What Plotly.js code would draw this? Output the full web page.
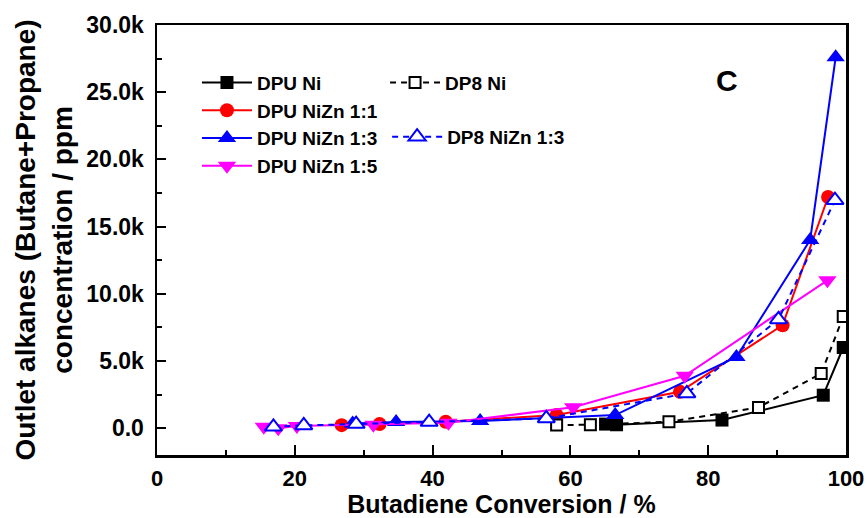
<!DOCTYPE html>
<html>
<head>
<meta charset="utf-8">
<script src="https://cdn.plot.ly/plotly-3.0.1.min.js"></script>
<style>html,body{margin:0;padding:0;background:#fff;}#chart{width:867px;height:518px;}</style>
</head>
<body>
<div id="chart"></div>
<script>
// Series data (Butadiene conversion %, outlet alkanes ppm)
const dpuNiX = [65.1, 66.7, 82.0, 96.7, 99.6];
const dpuNiY = [300, 250, 600, 2450, 6000];

const dp8NiX = [58.0, 62.9, 74.3, 87.3, 96.4, 99.6];
const dp8NiY = [230, 250, 470, 1540, 4070, 8300];

const dpuNiZn11X = [26.8, 32.3, 41.9, 58.0, 75.9, 90.8, 97.4];
const dpuNiZn11Y = [220, 300, 480, 970, 2700, 7660, 17200];

const dpuNiZn13X = [28.4, 34.7, 46.9, 66.5, 84.1, 94.8, 98.5];
const dpuNiZn13Y = [350, 450, 530, 970, 5300, 14000, 27600];

const dp8NiZn13X = [16.9, 21.3, 28.9, 39.5, 56.5, 76.9, 90.2, 98.4];
const dp8NiZn13Y = [100, 200, 300, 450, 720, 2580, 8090, 16960];

const dpuNiZn15X = [15.5, 17.6, 20.3, 31.4, 42.3, 60.4, 76.6, 97.3];
const dpuNiZn15Y = [100, 0, 150, 250, 400, 1550, 3900, 11000];

const yTickVals = [0, 5000, 10000, 15000, 20000, 25000, 30000];
const yTickText = ['0.0', '5.0k', '10.0k', '15.0k', '20.0k', '25.0k', '30.0k'];
const xTickVals = [0, 20, 40, 60, 80, 100];

const FONT = 'Liberation Sans, Arial, sans-serif';

function solid(name, x, y, color, symbol, size, group) {
  return {
    type: 'scatter', mode: 'lines+markers', name: name, x: x, y: y,
    line: {color: color, width: 2},
    marker: {symbol: symbol, size: size, color: color, line: {width: 0}},
    legend: 'legend', legendgroup: group
  };
}
function dashed(name, x, y, color, symbol, size, legendId) {
  return {
    type: 'scatter', mode: 'lines+markers', name: name, x: x, y: y,
    line: {color: color, width: 2, dash: '6px,5px'},
    marker: {symbol: symbol, size: size, color: '#ffffff', line: {color: color, width: 2}},
    legend: legendId
  };
}

const traces = [
  solid('DPU Ni', dpuNiX, dpuNiY, '#000000', 'square', 13, 'g1'),
  solid('DPU NiZn 1:1', dpuNiZn11X, dpuNiZn11Y, '#ff0000', 'circle', 14, 'g2'),
  solid('DPU NiZn 1:3', dpuNiZn13X, dpuNiZn13Y, '#0000ff', 'triangle-up', 16, 'g3'),
  solid('DPU NiZn 1:5', dpuNiZn15X, dpuNiZn15Y, '#ff00ff', 'triangle-down', 16, 'g4'),
  dashed('DP8 Ni', dp8NiX, dp8NiY, '#000000', 'square', 11, 'legend2'),
  dashed('DP8 NiZn 1:3', dp8NiZn13X, dp8NiZn13Y, '#0000ff', 'triangle-up', 15, 'legend3')
];

const legendBase = {
  font: {family: FONT, size: 19, color: '#000', weight: 'bold'},
  bgcolor: 'rgba(0,0,0,0)', borderwidth: 0, itemwidth: 50,
  xanchor: 'left', yanchor: 'top', traceorder: 'grouped', tracegroupgap: 0,
  itemclick: false
};

const layout = {
  width: 867, height: 518,
  margin: {l: 157, r: 21, t: 25, b: 63},
  paper_bgcolor: '#ffffff', plot_bgcolor: '#ffffff',
  showlegend: true,
  xaxis: {
    range: [0, 100], tickvals: xTickVals, ticktext: xTickVals.map(String),
    ticks: 'inside', ticklen: 10, tickwidth: 2, tickcolor: '#000',
    minor: {dtick: 10, ticks: 'inside', ticklen: 5, tickwidth: 2, tickcolor: '#000'},
    showline: true, linecolor: '#000', linewidth: 2.5, mirror: true,
    showgrid: false, zeroline: false,
    tickfont: {family: FONT, size: 22, color: '#000', weight: 'bold'},
    ticklabelstandoff: 2,
    title: {text: 'Butadiene Conversion / %', font: {family: FONT, size: 25, color: '#000', weight: 'bold'}, standoff: 0}
  },
  yaxis: {
    range: [-2000, 30000], tickvals: yTickVals, ticktext: yTickText,
    ticks: 'inside', ticklen: 9, tickwidth: 2, tickcolor: '#000',
    minor: {dtick: 2500, tick0: 0, ticks: 'inside', ticklen: 5, tickwidth: 2, tickcolor: '#000'},
    showline: true, linecolor: '#000', linewidth: 2.5, mirror: true,
    showgrid: false, zeroline: false,
    tickfont: {family: FONT, size: 23, color: '#000', weight: 'bold'},
    ticklabelstandoff: 6,
    title: {text: 'Outlet alkanes (Butane+Propane)<br>concentration / ppm', font: {family: FONT, size: 28, color: '#000', weight: 'bold'}, standoff: 6}
  },
  legend: Object.assign({}, legendBase, {x: 0.058, y: 0.910}),
  legend2: Object.assign({}, legendBase, {x: 0.331, y: 0.910}),
  legend3: Object.assign({}, legendBase, {x: 0.334, y: 0.784}),
  annotations: [{
    text: 'C', xref: 'paper', yref: 'paper', x: 0.827, y: 0.872,
    xanchor: 'center', yanchor: 'middle',
    showarrow: false, font: {family: FONT, size: 30, color: '#000', weight: 'bold'}
  }]
};

Plotly.newPlot('chart', traces, layout, {displayModeBar: false, staticPlot: true});
</script>
</body>
</html>
